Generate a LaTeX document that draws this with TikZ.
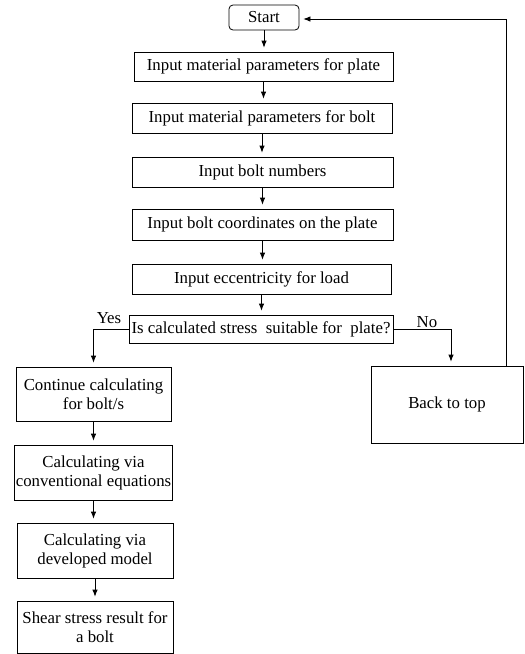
\documentclass[tikz,border=0pt]{standalone}
\usepackage{fontspec}
\setmainfont{Liberation Serif}
\usetikzlibrary{arrows.meta}
\begin{document}
\begin{tikzpicture}[x=1pt,y=-1pt,
  every node/.style={font=\fontsize{16.8}{19}\selectfont},
  box/.style={draw, line width=0.8pt, inner sep=1pt, align=center},
  arr/.style={-{Latex[length=7pt,width=5.5pt]}, line width=0.8pt, shorten >=4pt},
  ln/.style={line width=0.8pt}]
\useasboundingbox (0,0) rectangle (525,654);
\node[box, rounded corners=4pt, minimum width=70pt, minimum height=25pt] (start) at (264,17.5) {Start};
\node[box, minimum width=259pt, minimum height=29pt] (b1) at (263.5,66.5) {Input material parameters for plate};
\node[box, minimum width=260pt, minimum height=30pt] (b2) at (262,118) {Input material parameters for bolt};
\node[box, minimum width=261pt, minimum height=30pt] (b3) at (262.5,172) {Input bolt numbers};
\node[box, minimum width=261pt, minimum height=31pt] (b4) at (262.5,224.5) {Input bolt coordinates on the plate};
\node[box, minimum width=259pt, minimum height=30pt] (b5) at (261.5,279) {Input eccentricity for load};
\node[box, minimum width=264pt, minimum height=28pt] (dec) at (261,329) {Is calculated stress\ \ suitable for\ \ plate?};
\node[box, minimum width=155pt, minimum height=54pt] (cont) at (93.5,394) {Continue calculating\\for bolt/s};
\node[box, minimum width=155pt, minimum height=55pt] (conv) at (93.5,472.5) {Calculating via\\conventional equations};
\node[box, minimum width=156pt, minimum height=55pt] (dev) at (95,550.5) {Calculating via\\developed model};
\node[box, minimum width=156pt, minimum height=52pt] (shear) at (95,627) {Shear stress result for\\a bolt};
\node[box, minimum width=152pt, minimum height=77pt] (back) at (447,404.5) {Back to top};
\node (yes) at (109,318) {Yes};
\node (no) at (427,322) {No};
\coordinate (fb) at (506,19);
\draw[arr] (start.south) -- (start.south |- b1.north);
\draw[arr] (b1.south) -- (b1.south |- b2.north);
\draw[arr] (b2.south) -- (b2.south |- b3.north);
\draw[arr] (b3.south) -- (b3.south |- b4.north);
\draw[arr] (b4.south) -- (b4.south |- b5.north);
\draw[arr] (b5.south) -- (b5.south |- dec.north);
\draw[arr] (dec.west) -| (cont.north);
\draw[arr] (dec.east) -| ([xshift=4pt]back.north);
\draw[arr] (cont.south) -- (cont.south |- conv.north);
\draw[arr] (conv.south) -- (conv.south |- dev.north);
\draw[arr] (dev.south) -- (dev.south |- shear.north);
\draw[arr] (back.north -| fb) -- (fb) -- (fb -| start.east);
\end{tikzpicture}
\end{document}
